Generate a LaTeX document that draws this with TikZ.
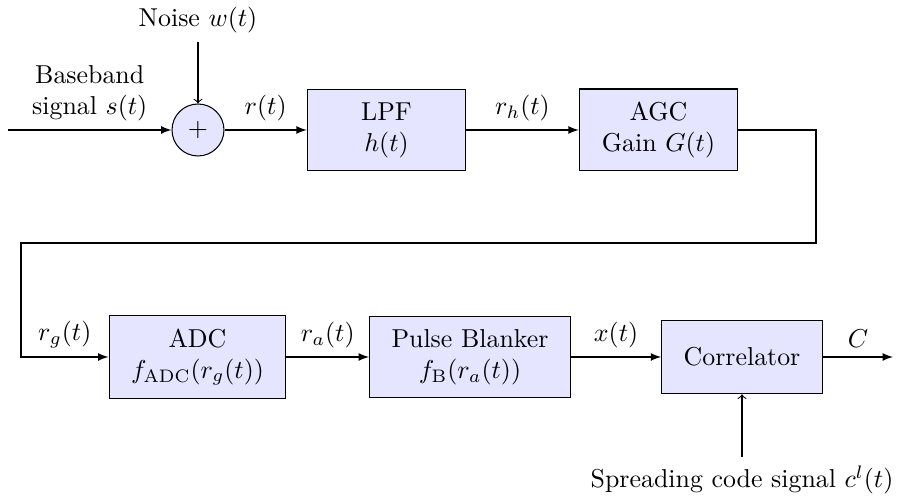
\documentclass[tikz,border=0pt]{standalone}
\usepackage{amsmath}
\usetikzlibrary{arrows}

\begin{document}
\begin{tikzpicture}[x=0.013575cm,y=-0.013575cm,
  block/.style={draw,fill=blue!10,minimum height=1cm,minimum width=2.15cm,
    inner xsep=8.5pt,inner ysep=5pt,align=center},
  sumnode/.style={draw,circle,fill=blue!10,minimum size=0.706cm,inner sep=0pt},
  sig/.style={-latex}]
\path[use as bounding box] (0,0) rectangle (898,501);
% first row
\coordinate (in) at (8,130);
\node[sumnode] (sum) at (198,130) {$+$};
\node (noise) at (198,20) {Noise $w(t)$};
\node[block] (lpf) at (386.5,130) {LPF\\$h(t)$};
\node[block] (agc) at (658.5,130) {AGC\\Gain $G(t)$};
% second row
\node[block] (adc) at (197.5,357) {ADC\\$f_{\text{ADC}}(r_g(t))$};
\node[block] (pb) at (470,357) {Pulse Blanker\\$f_{\text{B}}(r_a(t))$};
\node[block] (corr) at (742,357) {Correlator};
\node (code) at (742,480) {Spreading code signal $c^l(t)$};
\coordinate (out) at (893,357);
\coordinate (turn1) at (816,130);
\coordinate (turn2) at (21,243);
% connections
\draw[sig] (in) -- node[above,align=center] {Baseband\\signal $s(t)$} (sum);
\draw[->] (noise) -- (sum);
\draw[sig] (sum) -- node[above] {$r(t)$} (lpf);
\draw[sig] (lpf) -- node[above] {$r_h(t)$} (agc);
\draw[sig] (agc.east) -- (turn1) |- (turn2) |- node[pos=0.75,above] {$r_g(t)$} (adc.west);
\draw[sig] (adc) -- node[above] {$r_a(t)$} (pb);
\draw[sig] (pb) -- node[above] {$x(t)$} (corr);
\draw[sig] (corr) -- node[above] {$C$} (out);
\draw[->] (code) -- (corr);
\end{tikzpicture}
\end{document}
